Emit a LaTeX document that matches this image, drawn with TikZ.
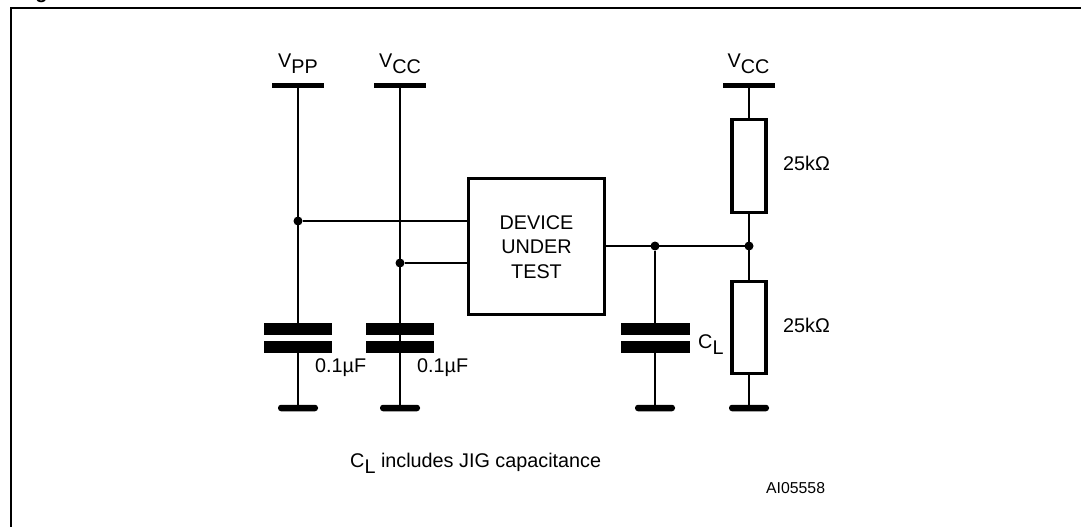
\documentclass[tikz,border=0pt]{standalone}
\usepackage{fontspec}
\setmainfont{Liberation Sans}
\usetikzlibrary{positioning,calc}

\newcommand{\lowsub}[2]{#1\raisebox{-6pt}{#2}}
\newcommand{\labelfont}{\fontsize{19.8}{24.5}\selectfont}

\tikzset{
    rail/.style={fill=black, rectangle, inner sep=0pt, outer sep=0pt, minimum width=52pt, minimum height=5pt},
    gnd/.style={fill=black, rectangle, rounded corners=3pt, inner sep=0pt, outer sep=0pt, minimum width=40pt, minimum height=6.5pt},
    plate/.style={fill=black, rectangle, inner sep=0pt, outer sep=0pt, minimum width=68pt, minimum height=12pt},
    res/.style={draw, rectangle, line width=3.6pt, outer sep=0pt, minimum width=34pt},
    dot/.style={fill=black, circle, inner sep=0pt, outer sep=0pt, minimum size=9pt},
    wire/.style={line width=1.8pt},
    txt/.style={font=\labelfont, inner sep=0pt}
}

\begin{document}
\begin{tikzpicture}[x=1pt, y=-1pt]
    \useasboundingbox (0,0) rectangle (1081,527);

    % Frame
    \coordinate (frametr) at (1081,8);
    \coordinate (framebl) at (11,527);
    \draw [line width=2.5pt] (frametr) -- (11,8) -- (framebl);
    \node [font=\bfseries\fontsize{20}{24}\selectfont, inner sep=0pt, anchor=base] (figtitle) at (41.5,-1.2) {g};

    % VPP
    \node [rail] (vpprail) at (298,85) {};
    \node [txt, anchor=base] (vpplabel) at (298,67) {\lowsub{V}{PP}};
    \node [plate] (vpptop) at (298,328.5) {};
    \node [plate] (vppbot) at (298,347) {};
    \node [gnd] (vppgnd) at (298,408) {};
    \node [dot] (vppdot) at (298,221) {};
    \node [txt, anchor=west] (vppval) at (315,368) {0.1µF};

    % VCC
    \node [rail] (vccrail) at (400,85) {};
    \node [txt, anchor=base] (vcclabel) at (400,67) {\lowsub{V}{CC}};
    \node [plate] (vcctop) at (400,328.5) {};
    \node [plate] (vccbot) at (400,347) {};
    \node [gnd] (vccgnd) at (400,408) {};
    \node [dot] (vccdot) at (400,263) {};
    \node [txt, anchor=west] (vccval) at (417,368) {0.1µF};

    % Device
    \node [draw, rectangle, line width=3.4pt, outer sep=0pt, minimum width=136.4pt, minimum height=136pt, align=center, font=\labelfont, inner sep=0pt] (dut) at (536.5,246.7) {DEVICE\\UNDER\\TEST};

    % Load
    \node [dot] (loaddot) at (655,246) {};
    \node [plate, minimum width=69pt] (loadtop) at (655,329) {};
    \node [plate, minimum width=69pt] (loadbot) at (655,347) {};
    \node [gnd] (loadgnd) at (655,408) {};
    \node [txt, anchor=base west] (loadlabel) at (698,348) {\lowsub{C}{L}};

    % Divider
    \node [rail] (railr) at (749,85) {};
    \node [txt, anchor=base] (railrlabel) at (748.5,67) {\lowsub{V}{CC}};
    \node [res, minimum height=93pt] (rup) at (749,166) {};
    \node [dot] (divdot) at (749,246) {};
    \node [res, minimum height=92pt] (rdown) at (749,327.3) {};
    \node [gnd] (divgnd) at (749,408) {};
    \node [txt, anchor=west] (rupval) at (783,163) {25kΩ};
    \node [txt, anchor=west] (rdownval) at (783,325) {25kΩ};

    % Notes
    \node [txt, anchor=base west] (note) at (350,467) {\lowsub{C}{L} includes JIG capacitance};
    \node [font=\fontsize{15.8}{19}\selectfont, inner sep=0pt, anchor=west] (code) at (766,488) {AI05558};

    % Wires
    \draw [wire] (vpprail) -- (vpptop);
    \draw [wire] (vppbot) -- (vppgnd);
    \draw [wire] (vccrail) -- (vccbot);
    \draw [wire] (vccbot) -- (vccgnd);
    \draw [wire] (vppdot) -- (vppdot -| dut.west);
    \draw [wire] (vccdot) -- (vccdot -| dut.west);
    \draw [wire] (dut.east |- divdot) -- (divdot);
    \draw [wire] (loaddot) -- (loadtop);
    \draw [wire] (loadbot) -- (loadgnd);
    \draw [wire] (railr) -- (rup);
    \draw [wire] (rup) -- (rdown);
    \draw [wire] (rdown) -- (divgnd);
\end{tikzpicture}
\end{document}
